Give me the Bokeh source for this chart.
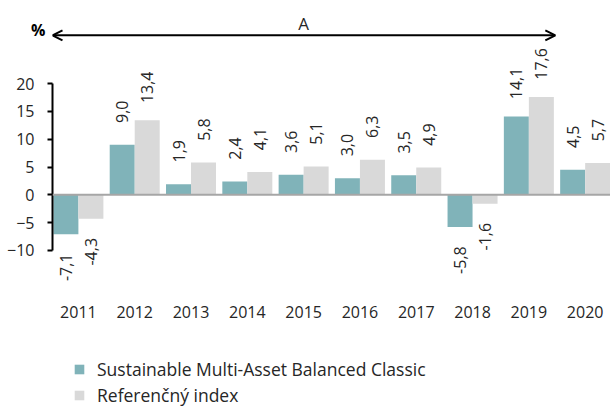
import math
from bokeh.plotting import figure
from bokeh.layouts import column
from bokeh.models import (ColumnDataSource, Range1d, LinearAxis, FixedTicker, Span,
                          Arrow, OpenHead, Label, Legend, LegendItem)
from bokeh.transform import dodge
from bokeh.core.properties import value
from bokeh.embed import file_html
from bokeh.resources import INLINE

years = [2011, 2012, 2013, 2014, 2015, 2016, 2017, 2018, 2019, 2020]
fund = [-7.1, 9.0, 1.9, 2.4, 3.6, 3.0, 3.5, -5.8, 14.1, 4.5]
bench = [-4.3, 13.4, 5.8, 4.1, 5.1, 6.3, 4.9, -1.6, 17.6, 5.7]
fund_name = "Sustainable Multi-Asset Balanced Classic"
bench_name = "Referenčný index"
y_ticks = [-10, -5, 0, 5, 10, 15, 20]
unit_label = "%"
period_label = "A"
period_years = (2011, 2019)

TEAL = "#80B3B9"
GREY = "#D9D9D9"
FONT = "Open Sans"
TXT = "#262626"

def fmt(v):
    return f"{v:.1f}".replace(".", ",")

src = ColumnDataSource(dict(
    year=years, fund=fund, bench=bench,
    fund_lbl=[fmt(v) for v in fund], bench_lbl=[fmt(v) for v in bench],
    fund_off=[-33 if v >= 0 else 33 for v in fund],
    bench_off=[-33 if v >= 0 else 33 for v in bench],
))

p = figure(frame_width=558, frame_height=287, output_backend="svg", toolbar_location=None,
           x_range=Range1d(2010.54, 2020.45), y_range=Range1d(-18.1, 33.5),
           x_axis_type=None, y_axis_type=None,
           min_border_left=52, min_border_right=0, min_border_top=8, min_border_bottom=30)
p.outline_line_color = None
p.xgrid.visible = False
p.ygrid.visible = False

bw = 0.444
off = 0.222
p.vbar(x=dodge("year", -off, range=p.x_range), top="fund", bottom=0, width=bw,
       source=src, fill_color=TEAL, line_color=None)
p.vbar(x=dodge("year", off, range=p.x_range), top="bench", bottom=0, width=bw,
       source=src, fill_color=GREY, line_color=None)

p.add_layout(Span(location=0, dimension="width", line_color="#A6A6A6", line_width=2))

for col, lbl, o, dx in [("fund", "fund_lbl", "fund_off", -off), ("bench", "bench_lbl", "bench_off", off)]:
    p.text(x=dodge("year", dx, range=p.x_range), y=col, text=lbl, source=src,
           angle=math.pi / 2, text_align="center", text_baseline="middle",
           y_offset=o, text_font=value(FONT), text_font_size="16px", text_color=TXT)

ay = 28.67      # arrow level
unit_y = 29.6   # level of the unit label

# axis line + ticks (closest to the frame)
yline = LinearAxis(bounds=(-10, 20), ticker=FixedTicker(ticks=y_ticks))
yline.axis_line_color = "black"
yline.axis_line_width = 2
yline.major_tick_line_color = "black"
yline.major_tick_line_width = 2
yline.major_tick_out = 5
yline.major_tick_in = 0
yline.minor_tick_line_color = None
yline.major_label_standoff = 0
yline.major_label_overrides = {t: "" for t in y_ticks}
p.add_layout(yline, "left")

# numeric tick labels
ylab = LinearAxis(ticker=FixedTicker(ticks=y_ticks))
ylab.axis_line_color = None
ylab.major_tick_line_color = None
ylab.minor_tick_line_color = None
ylab.major_label_standoff = 7
ylab.major_label_text_font = FONT
ylab.major_label_text_font_size = "16px"
ylab.major_label_text_color = TXT
p.add_layout(ylab, "left")

# unit label
yunit = LinearAxis(ticker=FixedTicker(ticks=[unit_y]))
yunit.axis_line_color = None
yunit.major_tick_line_color = None
yunit.minor_tick_line_color = None
yunit.major_label_standoff = -47
yunit.major_label_overrides = {unit_y: unit_label}
yunit.major_label_text_font = FONT
yunit.major_label_text_font_size = "16px"
yunit.major_label_text_font_style = "bold"
yunit.major_label_text_color = "black"
p.add_layout(yunit, "left")

xaxis = LinearAxis(ticker=FixedTicker(ticks=years))
xaxis.axis_line_color = None
xaxis.major_tick_line_color = None
xaxis.minor_tick_line_color = None
xaxis.major_label_standoff = 4
xaxis.major_label_text_font = FONT
xaxis.major_label_text_font_size = "16px"
xaxis.major_label_text_color = TXT
p.add_layout(xaxis, "below")

p.add_layout(Arrow(x_start=period_years[0] - 0.46, y_start=ay,
                   x_end=period_years[1] + 0.47, y_end=ay,
                   start=OpenHead(size=10, line_width=2, line_color="black"),
                   end=OpenHead(size=10, line_width=2, line_color="black"),
                   line_width=2, line_color="black"))
p.add_layout(Label(x=(period_years[0] + period_years[1]) / 2, y=30.83, text=period_label,
                   text_align="center", text_baseline="middle",
                   text_font=FONT, text_font_size="17px", text_color=TXT))

# legend strip
p2 = figure(width=610, height=81, output_backend="svg", toolbar_location=None,
            x_range=Range1d(0, 1), y_range=Range1d(0, 1),
            x_axis_type=None, y_axis_type=None,
            min_border_left=0, min_border_right=0, min_border_top=0, min_border_bottom=0)
p2.outline_line_color = None
p2.xgrid.visible = False
p2.ygrid.visible = False
g1 = p2.vbar(x="year", top="fund", width=0.4, source=src, fill_color=TEAL, line_color=None)
g2 = p2.vbar(x="year", top="bench", width=0.4, source=src, fill_color=GREY, line_color=None)

legend = Legend(items=[LegendItem(label=fund_name, renderers=[g1]),
                       LegendItem(label=bench_name, renderers=[g2])],
                location=(21, -1), orientation="vertical")
legend.label_text_font = FONT
legend.label_text_font_size = "17.5px"
legend.label_text_color = TXT
legend.glyph_width = 12
legend.glyph_height = 12
legend.label_height = 21
legend.spacing = 2
legend.padding = 0
legend.margin = 0
legend.border_line_color = None
legend.background_fill_alpha = 0
legend.label_standoff = 12
p2.add_layout(legend)

layout = column(p, p2, spacing=0)
open("out.html", "w").write(file_html(layout, INLINE))
